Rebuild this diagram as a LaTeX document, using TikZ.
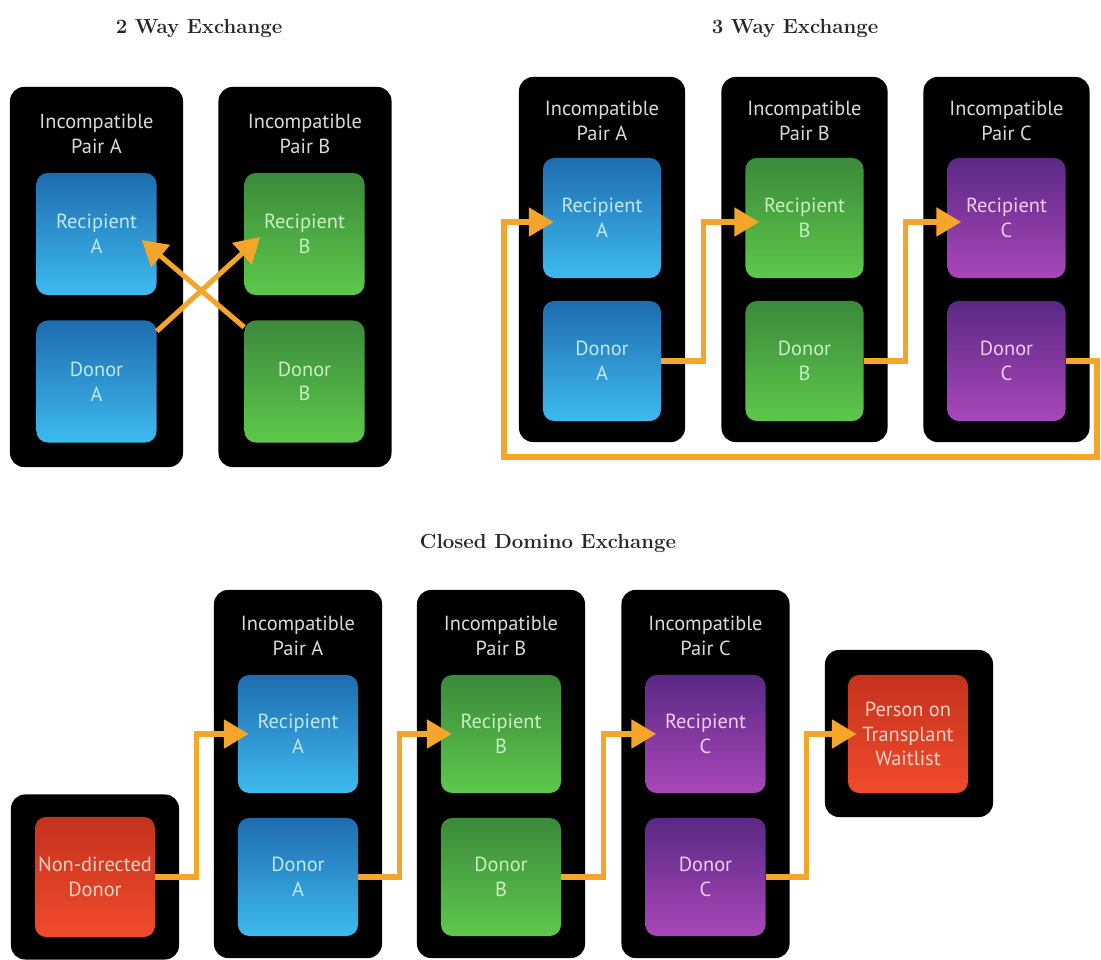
\documentclass[tikz,border=0pt]{standalone}
\usepackage{fontspec}
\newfontfamily\pairfont{PT Sans}
\usetikzlibrary{arrows.meta,calc}
\definecolor{blueTop}{HTML}{1F6CB0}
\definecolor{blueBot}{HTML}{3DBAEE}
\definecolor{blueText}{HTML}{BDE8F8}
\definecolor{greenTop}{HTML}{3B8A3A}
\definecolor{greenBot}{HTML}{5DC84B}
\definecolor{greenText}{HTML}{C8F0C2}
\definecolor{purpleTop}{HTML}{5A2884}
\definecolor{purpleBot}{HTML}{A947B9}
\definecolor{purpleText}{HTML}{F0CCF5}
\definecolor{redTop}{HTML}{C5321D}
\definecolor{redBot}{HTML}{F04B2B}
\definecolor{redText}{HTML}{FAD2C6}
\definecolor{linkOrange}{HTML}{F5A52A}
\definecolor{pairText}{HTML}{DADADA}

\begin{document}
\begin{tikzpicture}[
  x=0.025cm,y=-0.025cm,
  title/.style={font=\fontsize{14.5}{17}\selectfont\bfseries,text=black!85},
  pair/.style={fill=black,rounded corners=10pt,inner sep=0pt,minimum width=4.2cm,minimum height=9.2cm},
  pairlbl/.style={font=\pairfont\fontsize{14.5}{17.5}\selectfont,text=pairText,align=center},
  cell/.style={rounded corners=8pt,inner sep=0pt,minimum width=3cm,minimum height=3cm,align=center,
               font=\pairfont\fontsize{14.5}{17.5}\selectfont},
  cellA/.style={cell,top color=blueTop,bottom color=blueBot,text=blueText},
  cellB/.style={cell,top color=greenTop,bottom color=greenBot,text=greenText},
  cellC/.style={cell,top color=purpleTop,bottom color=purpleBot,text=purpleText},
  cellN/.style={cell,top color=redTop,bottom color=redBot,text=redText},
  arr/.style={-{Triangle[length=0.62cm,width=0.7cm]},draw=linkOrange,line width=3.6pt}
]
\useasboundingbox (0,0) rectangle (1101,960);

% ---- 2 way exchange ----
\node[title] (t2) at (199,28) {2 Way Exchange};
\node[pair,minimum width=4.325cm,minimum height=9.5cm] (p2A) at (96.5,277) {};
\node[pair,minimum width=4.325cm,minimum height=9.5cm] (p2B) at (305,277)  {};
\node[pairlbl] (l2A) at (96.5,134) {Incompatible\\Pair A};
\node[pairlbl] (l2B) at (305,134)  {Incompatible\\Pair B};
\node[cellA,minimum height=3.05cm] (r2A) at (96.5,234)   {Recipient\\A};
\node[cellA,minimum height=3.05cm] (d2A) at (96.5,381.5) {Donor\\A};
\node[cellB,minimum height=3.05cm] (r2B) at (304.5,234)   {Recipient\\B};
\node[cellB,minimum height=3.05cm] (d2B) at (304.5,381.5) {Donor\\B};
\draw[arr] ($(d2A.north east)+(0,11)$) -- ($(r2B.west)+(16,3)$);
\draw[arr] ($(d2B.north west)+(0,7)$)  -- ($(r2A.east)+(-15,6)$);

% ---- 3 way exchange ----
\node[title] (t3) at (795,28) {3 Way Exchange};
\node[pair,minimum width=4.15cm,minimum height=9.125cm] (p3A) at (602,259.5)    {};
\node[pair,minimum width=4.15cm,minimum height=9.125cm] (p3B) at (804.5,259.5)  {};
\node[pair,minimum width=4.15cm,minimum height=9.125cm] (p3C) at (1006.5,259.5) {};
\node[pairlbl] (l3A) at (602,121)    {Incompatible\\Pair A};
\node[pairlbl] (l3B) at (804.5,121)  {Incompatible\\Pair B};
\node[pairlbl] (l3C) at (1006.5,121) {Incompatible\\Pair C};
\node[cellA,minimum width=2.95cm] (r3A) at (602,218)    {Recipient\\A};
\node[cellA,minimum width=2.95cm] (d3A) at (602,361)    {Donor\\A};
\node[cellB,minimum width=2.95cm] (r3B) at (804.5,218)  {Recipient\\B};
\node[cellB,minimum width=2.95cm] (d3B) at (804.5,361)  {Donor\\B};
\node[cellC,minimum width=2.95cm] (r3C) at (1006.5,218) {Recipient\\C};
\node[cellC,minimum width=2.95cm] (d3C) at (1006.5,361) {Donor\\C};
\draw[arr] (d3A.east) -| ($(d3A.east)!.5!(r3B.west)$) |- ($(r3B.west)+(14,4)$);
\draw[arr] (d3B.east) -| ($(d3B.east)!.5!(r3C.west)$) |- ($(r3C.west)+(14,4)$);
\coordinate (loopR) at (1097,457);
\coordinate (loopL) at (504,457);
\draw[arr] (d3C.east) -| (loopR) -- (loopL) |- ($(r3A.west)+(11,4)$);

% ---- closed domino exchange ----
\node[title] (tD) at (548,543) {Closed Domino Exchange};
\node[pair,minimum height=4.125cm] (pN) at (95,877) {};
\node[cellN] (nd) at (95,877) {Non-directed\\Donor};
\node[pair] (pDA) at (298,774)   {};
\node[pair] (pDB) at (501,774)   {};
\node[pair] (pDC) at (705.5,774) {};
\node[pairlbl] (lDA) at (298,636)   {Incompatible\\Pair A};
\node[pairlbl] (lDB) at (501,636)   {Incompatible\\Pair B};
\node[pairlbl] (lDC) at (705.5,636) {Incompatible\\Pair C};
\node[cellA,minimum height=2.95cm] (rDA) at (298,734)   {Recipient\\A};
\node[cellA,minimum height=2.95cm] (dDA) at (298,877)   {Donor\\A};
\node[cellB,minimum height=2.95cm] (rDB) at (501,734)   {Recipient\\B};
\node[cellB,minimum height=2.95cm] (dDB) at (501,877)   {Donor\\B};
\node[cellC,minimum height=2.95cm] (rDC) at (705.5,734) {Recipient\\C};
\node[cellC,minimum height=2.95cm] (dDC) at (705.5,877) {Donor\\C};
\node[pair,minimum height=4.175cm] (pW) at (909,733.5) {};
\node[cellN,minimum height=2.95cm] (wl) at (908,734) {Person on\\Transplant\\Waitlist};
\draw[arr] (nd.east)  -| ($(nd.east)!.5!(rDA.west)$)  |- ($(rDA.west)+(11,0)$);
\draw[arr] (dDA.east) -| ($(dDA.east)!.5!(rDB.west)$) |- ($(rDB.west)+(11,0)$);
\draw[arr] (dDB.east) -| ($(dDB.east)!.5!(rDC.west)$) |- ($(rDC.west)+(11,0)$);
\draw[arr] (dDC.east) -| ($(dDC.east)!.5!(wl.west)$)  |- ($(wl.west)+(9,0)$);
\end{tikzpicture}
\end{document}
